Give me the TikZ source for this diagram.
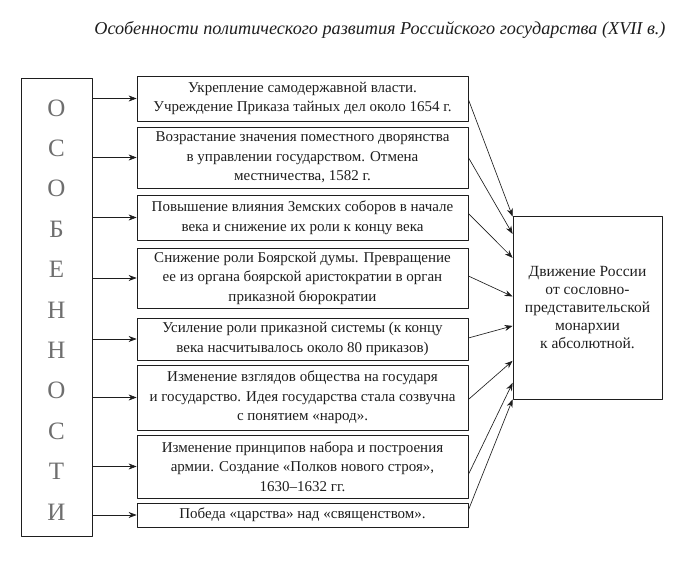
\documentclass[tikz,border=0pt]{standalone}
\usepackage{fontspec}
\setmainfont{Liberation Serif}
\usetikzlibrary{arrows.meta,calc}
\definecolor{ink}{HTML}{1E1E1E}
\definecolor{letter}{HTML}{6E6E6E}
\tikzset{
  >={Stealth[length=8pt,width=6pt]},
  featbox/.style={draw=ink,line width=0.8pt,minimum width=331pt,inner sep=1pt,
                  align=center,text=ink,font=\fontsize{15}{19.5}\selectfont},
  sidebox/.style={draw=ink,line width=0.8pt,minimum width=71pt,minimum height=458pt},
  resultbox/.style={draw=ink,line width=0.8pt,minimum width=149pt,minimum height=183pt,
                    align=center,text=ink,font=\fontsize{15.5}{18}\selectfont},
  arrow/.style={->,line width=0.65pt,draw=ink},
  bigletter/.style={text=letter,font=\fontsize{25}{25}\selectfont}
}

\begin{document}
\begin{tikzpicture}[x=1pt,y=-1pt,line cap=round,line join=round]
  \useasboundingbox (0,0) rectangle (689,565);
  % title
  \node[text=ink,font=\itshape\fontsize{18.2}{20}\selectfont] (title) at (380,30)
    {Особенности политического развития Российского государства (XVII в.)};

  % left column
  \node[sidebox] (side) at (56.5,307) {};
  \foreach \l [count=\i from 0] in {О,С,О,Б,Е,Н,Н,О,С,Т,И}
    \node[bigletter] (let\i) at (56.5,108+40.4*\i) {\l};

  % features
  \node[featbox,minimum height=45pt] (feat1) at (302.5,98.5)
    {Укрепление самодержавной власти.\\Учреждение Приказа тайных дел около 1654 г.};
  \node[featbox,minimum height=61pt] (feat2) at (302.5,157.5)
    {Возрастание значения поместного дворянства\\в управлении государством. Отмена\\местничества, 1582 г.};
  \node[featbox,minimum height=45pt] (feat3) at (302.5,217.5)
    {Повышение влияния Земских соборов в начале\\века и снижение их роли к концу века};
  \node[featbox,minimum height=60pt] (feat4) at (302.5,278)
    {Снижение роли Боярской думы. Превращение\\ее из органа боярской аристократии в орган\\приказной бюрократии};
  \node[featbox,minimum height=42pt] (feat5) at (302.5,339)
    {Усиление роли приказной системы (к концу\\века насчитывалось около 80 приказов)};
  \node[featbox,minimum height=65pt] (feat6) at (302.5,397.5)
    {Изменение взглядов общества на государя\\и государство. Идея государства стала созвучна\\с понятием «народ».};
  \node[featbox,minimum height=63pt] (feat7) at (302.5,466.5)
    {Изменение принципов набора и построения\\армии. Создание «Полков нового строя»,\\1630--1632 гг.};
  \node[featbox,minimum height=24pt] (feat8) at (302.5,515)
    {Победа «царства» над «священством».};

  % result
  \node[resultbox] (result) at (587.5,307.5)
    {Движение России\\от сословно-\\представительской\\монархии\\к абсолютной.};

  % arrows
  \foreach \i in {1,...,8}
    \draw[arrow] (side.east |- feat\i.west) -- (feat\i.west);
  \foreach \i/\s/\f in {1/-1/0.005,2/0/0.1,3/4/0.23,4/2/0.44,5/1/0.6,6/-2/0.79,7/-8/0.91,8/5/1}
    \draw[arrow] ([yshift=\s pt]feat\i.east) -- ($(result.north west)!\f!(result.south west)$);
\end{tikzpicture}
\end{document}
